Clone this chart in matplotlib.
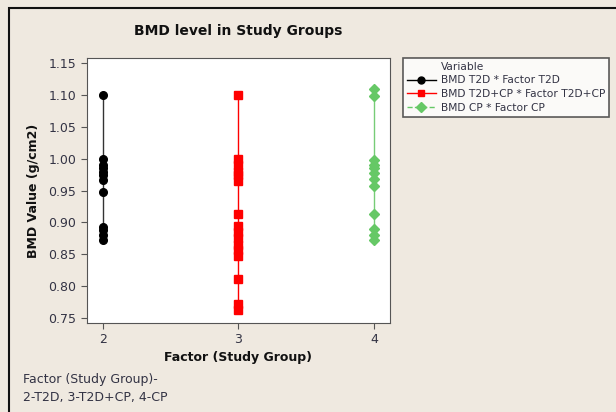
import matplotlib
matplotlib.use("Agg")
import matplotlib.pyplot as plt
from matplotlib.lines import Line2D
from matplotlib.patches import Rectangle

# BMD values, per study group factor
factor_t2d = 2
bmd_t2d = [1.10, 1.00, 0.99, 0.985, 0.98, 0.975, 0.967, 0.948, 0.893, 0.888, 0.88, 0.873]

factor_t2d_cp = 3
bmd_t2d_cp = [1.10, 1.00, 0.99, 0.98, 0.975, 0.965, 0.914, 0.895, 0.885, 0.875,
              0.865, 0.856, 0.847, 0.811, 0.772, 0.762]

factor_cp = 4
bmd_cp = [1.11, 1.098, 0.998, 0.991, 0.985, 0.978, 0.968, 0.957, 0.914, 0.89, 0.88, 0.873]

legend_labels = ['BMD T2D * Factor T2D', 'BMD T2D+CP * Factor T2D+CP', 'BMD CP * Factor CP']
yticks = [0.75, 0.80, 0.85, 0.90, 0.95, 1.00, 1.05, 1.10, 1.15]

bg = '#efe9e0'
txt = '#333344'
green = '#66c866'

fig = plt.figure(figsize=(6.16, 4.12), dpi=100, facecolor=bg)
ax = fig.add_axes([0.1407, 0.216, 0.4926, 0.6425])
ax.set_facecolor('white')

series = [
    (factor_t2d, bmd_t2d, 'black', '#333333', 'o', 5.5),
    (factor_t2d_cp, bmd_t2d_cp, 'red', 'red', 's', 5.5),
    (factor_cp, bmd_cp, green, '#77cc77', 'D', 5),
]
for xval, vals, mcol, lcol, mk, ms in series:
    vs = sorted(vals)
    ax.plot([xval] * len(vs), vs, color=lcol, lw=1, zorder=2)
    ax.plot([xval] * len(vs), vs, ls='none', marker=mk, ms=ms, color=mcol, zorder=3)

ax.set_xlim(1.88, 4.12)
ax.set_ylim(0.742, 1.158)
ax.set_xticks([2, 3, 4])
ax.set_yticks(yticks)
ax.set_yticklabels([f'{v:.2f}' for v in yticks])
ax.tick_params(direction='out', length=4, colors='#555555', labelcolor=txt, labelsize=9)
for s in ax.spines.values():
    s.set_color('#555555')

ax.set_xlabel('Factor (Study Group)', fontsize=9, fontweight='bold', color='#111111', labelpad=3)
ax.set_ylabel('BMD Value (g/cm2)', fontsize=9, fontweight='bold', color='#111111', labelpad=6)

fig.text(238 / 616, 1 - 31 / 412, 'BMD level in Study Groups', ha='center', va='center',
         fontsize=10, fontweight='bold', color='#111111')
fig.text(23 / 616, 1 - 380 / 412, 'Factor (Study Group)-', ha='left', va='center', fontsize=9, color=txt)
fig.text(23 / 616, 1 - 397 / 412, '2-T2D, 3-T2D+CP, 4-CP', ha='left', va='center', fontsize=9, color=txt)

handles = [
    Line2D([], [], ls='none'),
    Line2D([], [], color='black', marker='o', ms=5, lw=1),
    Line2D([], [], color='red', marker='s', ms=5, lw=1),
    Line2D([], [], color=green, marker='D', ms=5, lw=1, ls='--'),
]
leg = fig.legend(handles, ['Variable'] + legend_labels, loc='upper left',
                 bbox_to_anchor=(403 / 616, 1 - 58 / 412), fontsize=7.7,
                 frameon=True, fancybox=False, edgecolor='#333333', borderaxespad=0,
                 handlelength=2.7, handletextpad=0.5, labelspacing=0.35, borderpad=0.35)
leg.get_frame().set_linewidth(1.2)
leg.get_frame().set_facecolor('white')
for t in leg.get_texts():
    t.set_color(txt)

fig.patches.append(Rectangle((9 / 616, -0.1), 1.2, 1.1 - 8 / 412, transform=fig.transFigure,
                             fill=False, edgecolor='#111111', lw=1.5))

fig.savefig('out.png', dpi=100, facecolor=bg)
